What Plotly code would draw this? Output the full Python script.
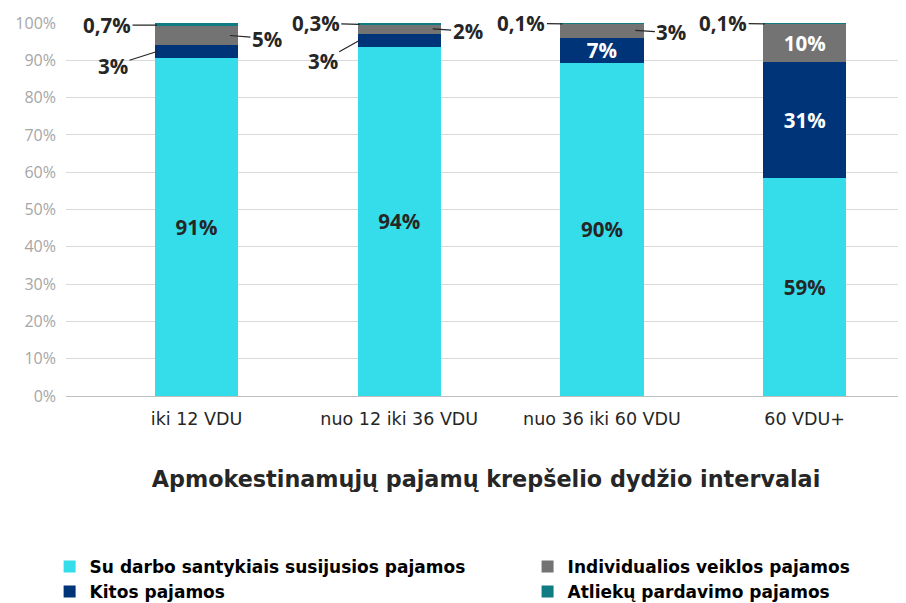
import plotly.graph_objects as go

categories = ["iki 12 VDU", "nuo 12 iki 36 VDU", "nuo 36 iki 60 VDU", "60 VDU+"]
series_names = [
    "Su darbo santykiais susijusios pajamos",
    "Kitos pajamos",
    "Individualios veiklos pajamos",
    "Atliekų pardavimo pajamos",
]
darbo = [90.7, 93.7, 89.4, 58.4]
kitos = [3.3, 3.4, 6.7, 31.2]
individualios = [5.3, 2.6, 3.8, 10.3]
atlieku = [0.7, 0.3, 0.1, 0.1]

lbl_darbo = ["91%", "94%", "90%", "59%"]
lbl_kitos = ["3%", "3%", "7%", "31%"]
lbl_indiv = ["5%", "2%", "3%", "10%"]
lbl_atl = ["0,7%", "0,3%", "0,1%", "0,1%"]

yticks = list(range(0, 101, 10))
ytick_text = [f"{v}%" for v in yticks]

colors = ["#35DDEB", "#003478", "#737373", "#0E7C82"]
dark = "#262626"
LAB_FAMILY = "Open Sans"
LAB_SIZE = 20.5
xs = list(range(len(categories)))
BW = 0.41
INSIDE_MIN = 6

def inside(vals, lbls):
    return [l if v >= INSIDE_MIN else "" for v, l in zip(vals, lbls)]

fig = go.Figure()
spec = [
    (darbo, lbl_darbo, colors[0], dark, "legend", True),
    (kitos, lbl_kitos, colors[1], "white", "legend", True),
    (individualios, lbl_indiv, colors[2], "white", "legend2", True),
    (atlieku, lbl_atl, colors[3], "white", "legend2", False),
]
for k, ((vals, lbls, col, tcol, lg, has_text), name) in enumerate(zip(spec, series_names)):
    fig.add_trace(go.Bar(
        x=xs, y=vals, name=name, width=BW,
        marker=dict(color=col, line=dict(width=0)),
        text=inside(vals, lbls) if has_text else None,
        textposition="inside", insidetextanchor="middle", textangle=0,
        constraintext="none",
        textfont=dict(family=LAB_FAMILY, size=LAB_SIZE, color=tcol, weight="bold"),
        legend=lg, legendgroup=f"g{k}", hoverinfo="skip",
    ))

# callouts with leader lines for small segments: (series, index, side, ax, ay)
callouts = [
    ("atl", 0, -1, -50, 0), ("indiv", 0, 1, 37, 3), ("kitos", 0, -1, -44, 14),
    ("atl", 1, -1, -44, -1), ("indiv", 1, 1, 35, 2), ("kitos", 1, -1, -37, 21),
    ("atl", 2, -1, -41, -1), ("indiv", 2, 1, 36, 2),
    ("atl", 3, -1, -42, -1),
]
for s, i, side, ax, ay in callouts:
    if s == "atl":
        yv = 100 - atlieku[i] / 2 - 0.2
        txt = lbl_atl[i]
    elif s == "indiv":
        yv = darbo[i] + kitos[i] + individualios[i] / 2
        txt = lbl_indiv[i]
    else:
        yv = darbo[i] + kitos[i] / 2
        txt = lbl_kitos[i]
    xv = i + (-0.195 if side < 0 else 0.165)
    fig.add_annotation(
        x=xv, y=yv, xref="x", yref="y", text="<b>" + txt + "</b>",
        showarrow=True, arrowhead=0, arrowwidth=1.2, arrowcolor=dark,
        ax=ax, ay=ay, standoff=0, borderpad=1,
        font=dict(family=LAB_FAMILY, size=LAB_SIZE, color=dark),
    )

legend_font = dict(family="DejaVu Sans", size=17, color="black", weight="bold")
# page body adds an 8px margin, so the figure is 8px smaller on each side
fig.update_layout(
    width=898, height=595,
    margin=dict(l=58, r=0, t=15, b=207, autoexpand=False),
    barmode="stack",
    plot_bgcolor="white", paper_bgcolor="white",
    showlegend=True,
    legend=dict(
        x=-0.0195, y=-0.41, xanchor="left", yanchor="top", orientation="v",
        traceorder="normal", font=legend_font,
        bgcolor="rgba(0,0,0,0)", tracegroupgap=2,
    ),
    legend2=dict(
        x=0.5495, y=-0.41, xanchor="left", yanchor="top", orientation="v",
        traceorder="normal", font=legend_font,
        bgcolor="rgba(0,0,0,0)", tracegroupgap=2,
    ),
    xaxis=dict(
        range=[-0.644, 3.5], tickvals=xs, ticktext=categories,
        tickfont=dict(family="DejaVu Sans", size=17.5, color=dark),
        showgrid=False, zeroline=False, showline=False, ticks="",
        ticklabelstandoff=10,
        title=dict(text="<b>Apmokestinamųjų pajamų krepšelio dydžio intervalai</b>",
                   font=dict(family="DejaVu Sans", size=22.3, color=dark), standoff=43),
    ),
    yaxis=dict(
        range=[0, 100], tickmode="array", tickvals=yticks, ticktext=ytick_text,
        tickfont=dict(family="Open Sans", size=16, color="#A6A6A6"),
        showgrid=True, gridcolor="#D9D9D9", gridwidth=1,
        zeroline=True, zerolinecolor="#BFBFBF", zerolinewidth=1,
        ticks="", ticklabelstandoff=9,
    ),
)

fig.write_html("out.html")
